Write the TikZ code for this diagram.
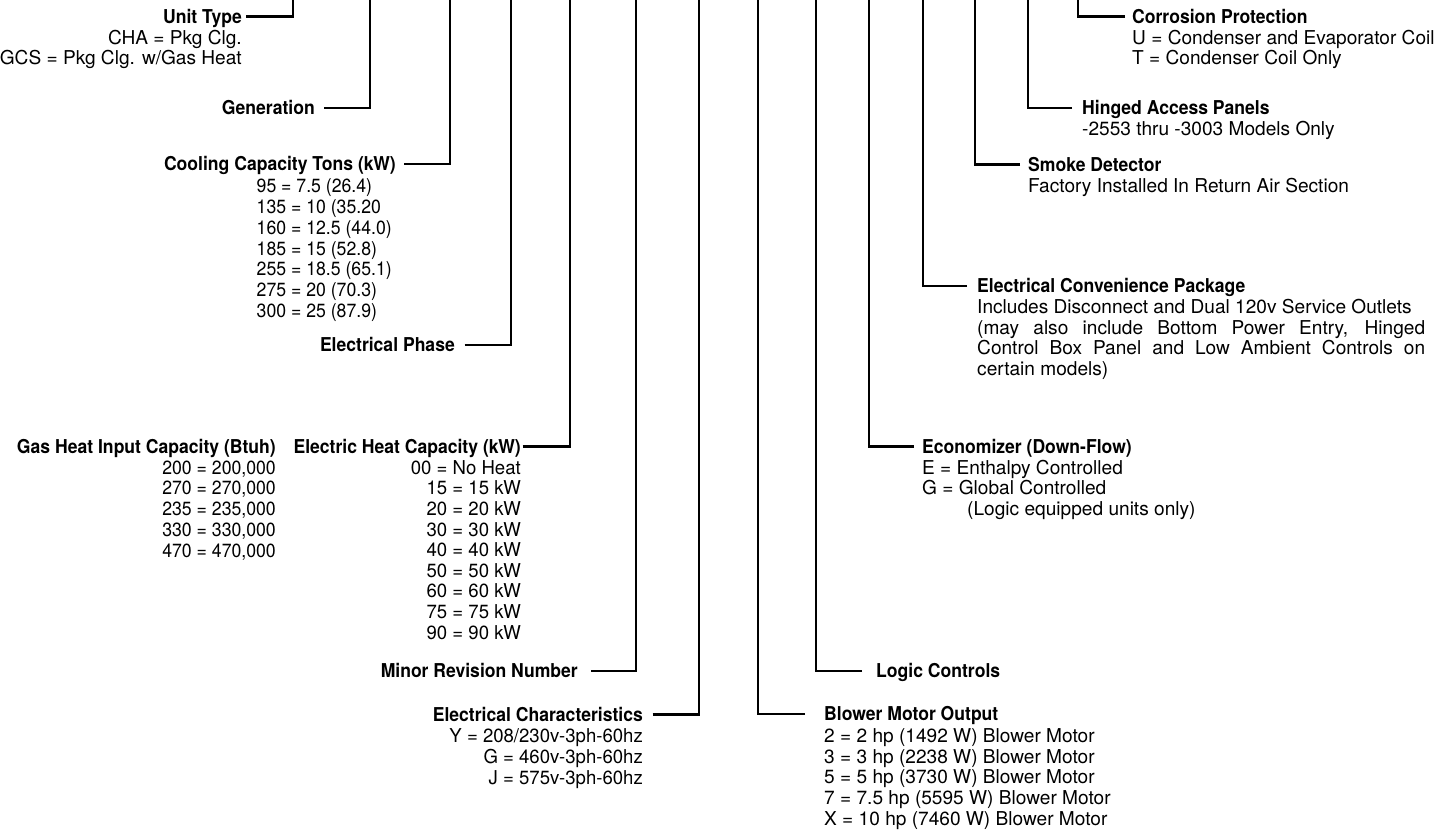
\documentclass[tikz,border=0pt]{standalone}
\usepackage{fontspec}
\setmainfont{TeX Gyre Heros}[BoldFeatures={FakeStretch=0.92}]
\newfontfamily\narrowA{TeX Gyre Heros}[FakeStretch=0.925]
\newfontfamily\narrowB{TeX Gyre Heros}[FakeStretch=0.972]
\begin{document}
\begin{tikzpicture}[x=1pt,y=-1pt,
  txt/.style={inner sep=0pt, text height=13.6pt, text depth=0pt, font=\fontsize{19.1}{20.7}\selectfont},
  txtA/.style={txt, font=\fontsize{19.1}{20.7}\narrowA},
  txtB/.style={txt, font=\fontsize{19.1}{20.7}\narrowB},
  hd/.style={txt, font=\fontsize{19.1}{20.7}\selectfont\bfseries},
  wire/.style={line width=2.8pt, line join=miter}]
\useasboundingbox (0,0) rectangle (1446,832);
% top ends of the connectors
\foreach \n/\x in {1/293,2/370,3/450,4/511,5/570,6/636,7/699,8/758,9/816,10/869,11/923,12/975,13/1028,14/1078}
  \coordinate (t\n) at (\x,0);

% ---------- left side ----------
\node[hd, anchor=east] (ut) at (242,16.7) {Unit Type};
\node[txt, anchor=east] (ut1) at (242,37.4) {CHA = Pkg Clg.};
\node[txt, anchor=east] (ut2) at (242,58.1) {GCS = Pkg Clg. w/Gas Heat};
\draw[wire] ([xshift=4pt]ut.east) -| (t1);

\node[hd, anchor=east] (gen) at (315,108) {Generation};
\draw[wire] ([xshift=9pt]gen.east) -| (t2);

\node[hd, anchor=east] (cc) at (396,164) {Cooling Capacity Tons (kW)};
\foreach \t [count=\i from 0] in {95 = 7.5 (26.4),135 = 10 (35.20,160 = 12.5 (44.0),185 = 15 (52.8),255 = 18.5 (65.1),275 = 20 (70.3),300 = 25 (87.9)}
  \node[txtA, anchor=west] (cc\i) at (256.5,185.8+20.8*\i) {\t};
\draw[wire] ([xshift=8pt]cc.east) -| (t3);

\node[hd, anchor=east] (ep) at (455,345) {Electrical Phase};
\draw[wire] ([xshift=9.5pt]ep.east) -| (t4);

\node[hd, anchor=east] (gh) at (276,446.7) {Gas Heat Input Capacity (Btuh)};
\foreach \t [count=\i from 0] in {200 = 200{,}000,270 = 270{,}000,235 = 235{,}000,330 = 330{,}000,470 = 470{,}000}
  \node[txtA, anchor=east] (gh\i) at (276,467.4+20.7*\i) {\t};

\node[hd, anchor=east] (eh) at (521,446.7) {Electric Heat Capacity (kW)};
\foreach \t [count=\i from 0] in {00 = No Heat,15 = 15 kW,20 = 20 kW,30 = 30 kW,40 = 40 kW,50 = 50 kW,60 = 60 kW,75 = 75 kW,90 = 90 kW}
  \node[txtB, anchor=east] (eh\i) at (521,467.4+20.6*\i) {\t};
\draw[wire] ([xshift=1.5pt]eh.east) -| (t5);

\node[hd, anchor=east] (mr) at (578,671) {Minor Revision Number};
\draw[wire] ([xshift=13pt]mr.east) -| (t6);

\node[hd, anchor=east] (ec) at (643,714.5) {Electrical Characteristics};
\foreach \t [count=\i from 0] in {Y = 208/230v-3ph-60hz,G = 460v-3ph-60hz,J = 575v-3ph-60hz}
  \node[txtB, anchor=east] (ec\i) at (643,736+20.7*\i) {\t};
\draw[wire] ([xshift=9.5pt]ec.east) -| (t7);

% ---------- right side ----------
\node[hd, anchor=west] (bm) at (824,714) {Blower Motor Output};
\foreach \t [count=\i from 0] in {2 = 2 hp (1492 W) Blower Motor,3 = 3 hp (2238 W) Blower Motor,5 = 5 hp (3730 W) Blower Motor,7 = 7.5 hp (5595 W) Blower Motor,X = 10 hp (7460 W) Blower Motor}
  \node[txt, anchor=west] (bm\i) at (824,735.5+20.7*\i) {\t};
\draw[wire] ([xshift=-19pt]bm.west) -| (t8);

\node[hd, anchor=west] (lc) at (876,671) {Logic Controls};
\draw[wire] ([xshift=-14pt]lc.west) -| (t9);

\node[hd, anchor=west] (eco) at (922,446.7) {Economizer (Down-Flow)};
\node[txt, anchor=west] (eco1) at (922,467.4) {E = Enthalpy Controlled};
\node[txt, anchor=west] (eco2) at (922,488.1) {G = Global Controlled};
\node[txt, anchor=west] (eco3) at (967,508.8) {(Logic equipped units only)};
\draw[wire] ([xshift=-8pt]eco.west) -| (t10);

\node[hd, anchor=west] (ecp) at (977,286) {Electrical Convenience Package};
\node[txt, anchor=west] (ecp1) at (977,306.7) {Includes Disconnect and Dual 120v Service Outlets};
\node[txt, anchor=west] (ecp2) at (977,327.4) {\makebox[448pt][s]{(may also include Bottom Power Entry, Hinged}};
\node[txt, anchor=west] (ecp3) at (977,348.1) {\makebox[448pt][s]{Control Box Panel and Low Ambient Controls on}};
\node[txt, anchor=west] (ecp4) at (977,368.8) {certain models)};
\draw[wire] ([xshift=-10pt]ecp.west) -| (t11);

\node[hd, anchor=west] (sd) at (1028,164.5) {Smoke Detector};
\node[txt, anchor=west] (sd1) at (1028,185.2) {Factory Installed In Return Air Section};
\draw[wire] ([xshift=-8pt]sd.west) -| (t12);

\node[hd, anchor=west] (hap) at (1082,108) {Hinged Access Panels};
\node[txt, anchor=west] (hap1) at (1082,128.7) {-2553 thru -3003 Models Only};
\draw[wire] ([xshift=-10pt]hap.west) -| (t13);

\node[hd, anchor=west] (cp) at (1132,16.7) {Corrosion Protection};
\node[txt, anchor=west] (cp1) at (1132,37.4) {U = Condenser and Evaporator Coil};
\node[txt, anchor=west] (cp2) at (1132,58.1) {T = Condenser Coil Only};
\draw[wire] ([xshift=-7pt]cp.west) -| (t14);
\end{tikzpicture}
\end{document}
